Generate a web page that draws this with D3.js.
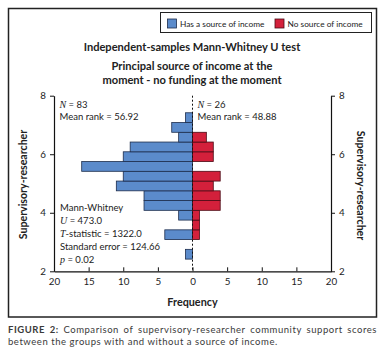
<!DOCTYPE html>
<html>
<head>
<meta charset="utf-8">
<script src="https://cdn.jsdelivr.net/npm/d3@7"></script>
<style>
  body { margin: 0; background: #fff; }
  svg { display: block; font-family: Lato, "Open Sans", sans-serif; }
</style>
</head>
<body>
<svg id="chart" width="390" height="354"></svg>
<script>
// lower edge of each score bin (bins are 1/3 wide)
const binStarts = [2.4167, 2.75, 3.0833, 3.4167, 3.75, 4.0833, 4.4167, 4.75, 5.0833, 5.4167, 5.75, 6.0833, 6.4167, 6.75, 7.0833]
const binWidth = 1 / 3
const hasIncome = [1, 0, 4, 0, 2, 7, 7, 11, 10, 16, 10, 9, 2, 3, 1]
const noIncome = [0, 0, 1, 1, 1, 4, 4, 3, 4, 0, 3, 3, 2, 0, 0]

const seriesNames = ["Has a source of income", "No source of income"]
const yTicks = [2, 4, 6, 8]
const xTicks = [-20, -15, -10, -5, 0, 5, 10, 15, 20]

const blue = "#5b8bcb", blueLine = "#1c2c4c"
const red = "#d3203b", redLine = "#4a0a14"

const svg = d3.select("#chart")

// frequency runs both ways from zero
const x = d3.scaleLinear().domain([-20, 20]).range([54, 331])
const y = d3.scaleLinear().domain([2, 8]).range([271.3, 95.7])

// outer frame
svg.append("rect")
    .attr("x", 8.5).attr("y", 8.5)
    .attr("width", 368).attr("height", 308.5)
    .attr("fill", "none").attr("stroke", "#222").attr("stroke-width", 1.5)

// legend
const leg = svg.append("g")
leg.append("rect")
    .attr("x", 160.5).attr("y", 12.5).attr("width", 211).attr("height", 20)
    .attr("fill", "#fff").attr("stroke", "#222").attr("stroke-width", 1)
const legX = [167.5, 275]
seriesNames.forEach((name, i) => {
    leg.append("rect")
        .attr("x", legX[i]).attr("y", 19).attr("width", 9).attr("height", 9)
        .attr("fill", i == 0 ? blue : red)
        .attr("stroke", i == 0 ? blueLine : redLine).attr("stroke-width", 0.8)
    leg.append("text")
        .attr("x", legX[i] + 12.5).attr("y", 26.5)
        .attr("font-size", 8.3).attr("fill", "#222")
        .text(name)
})

// titles
const titleLines = [["Independent-samples Mann-Whitney U test", 51],
    ["Principal source of income at the", 69.5], ["moment - no funding at the moment", 83.5]]
titleLines.forEach(d => svg.append("text")
    .attr("x", 192).attr("y", d[1]).attr("text-anchor", "middle")
    .attr("font-size", 11.1).attr("font-weight", "bold").attr("fill", "#222")
    .text(d[0]))

// bars
svg.append("g").selectAll("rect")
    .data(binStarts.map((b, i) => ({ b, n: hasIncome[i] })).filter(d => d.n > 0))
    .join("rect")
    .attr("x", d => x(-d.n))
    .attr("y", d => y(d.b + binWidth))
    .attr("width", d => x(0) - x(-d.n))
    .attr("height", d => y(d.b) - y(d.b + binWidth))
    .attr("fill", blue).attr("stroke", blueLine).attr("stroke-width", 0.8)

svg.append("g").selectAll("rect")
    .data(binStarts.map((b, i) => ({ b, n: noIncome[i] })).filter(d => d.n > 0))
    .join("rect")
    .attr("x", x(0))
    .attr("y", d => y(d.b + binWidth))
    .attr("width", d => x(d.n) - x(0))
    .attr("height", d => y(d.b) - y(d.b + binWidth))
    .attr("fill", red).attr("stroke", redLine).attr("stroke-width", 0.8)

// dotted zero line
svg.append("line")
    .attr("x1", x(0)).attr("x2", x(0))
    .attr("y1", y(8)).attr("y2", y(2))
    .attr("stroke", "#111").attr("stroke-width", 1)
    .attr("stroke-dasharray", "2,2")

// axes
const styleAxis = g => {
    g.selectAll("path, line").attr("stroke", "#111")
    g.selectAll("text").attr("font-size", 9.8).attr("fill", "#222")
        .attr("font-family", "Lato, sans-serif")
}
svg.append("g")
    .attr("transform", `translate(0,${y(2)})`)
    .call(d3.axisBottom(x).tickValues(xTicks).tickFormat(d => Math.abs(d))
        .tickSizeInner(-4).tickSizeOuter(0).tickPadding(7))
    .call(styleAxis)
svg.append("g")
    .attr("transform", `translate(${x(-20)},0)`)
    .call(d3.axisLeft(y).tickValues(yTicks).tickFormat(d3.format("d"))
        .tickSizeInner(4).tickSizeOuter(0).tickPadding(4))
    .call(styleAxis)
svg.append("g")
    .attr("transform", `translate(${x(20)},0)`)
    .call(d3.axisRight(y).tickValues(yTicks).tickFormat(d3.format("d"))
        .tickSizeInner(4).tickSizeOuter(0).tickPadding(4))
    .call(styleAxis)
svg.selectAll(".domain").attr("stroke-width", 1.2)

// axis titles
svg.append("text")
    .attr("transform", `translate(27,${y(5) + 1}) rotate(-90)`)
    .attr("text-anchor", "middle")
    .attr("font-size", 10.6).attr("font-weight", "bold").attr("fill", "#222")
    .text("Supervisory-researcher")
svg.append("text")
    .attr("transform", `translate(357,${y(5) + 2}) rotate(90)`)
    .attr("text-anchor", "middle")
    .attr("font-size", 10.6).attr("font-weight", "bold").attr("fill", "#222")
    .text("Supervisory-researcher")
svg.append("text")
    .attr("x", x(0)).attr("y", 306).attr("text-anchor", "middle")
    .attr("font-size", 10.8).attr("font-weight", "bold").attr("fill", "#222")
    .text("Frequency")

// annotations: [italic part, rest]
const leftNotes = [["N", " = 83"], ["", "Mean rank = 56.92"]]
const rightNotes = [["N", " = 26"], ["", "Mean rank = 48.88"]]
const testNotes = [["", "Mann-Whitney"], ["U", " = 473.0"], ["T", "-statistic = 1322.0"],
    ["", "Standard error = 124.66"], ["p", " = 0.02"]]

function notes(list, x0, y0, step) {
    list.forEach((d, i) => {
        const t = svg.append("text")
            .attr("x", x0).attr("y", y0 + i * step)
            .attr("font-size", 9.5).attr("fill", "#222")
        if (d[0]) t.append("tspan")
            .attr("font-family", "'Liberation Serif', serif").attr("font-style", "italic")
            .attr("font-size", 10)
            .text(d[0])
        t.append("tspan").text(d[1])
    })
}
notes(leftNotes, 59.5, 107.5, 12)
notes(rightNotes, 197.5, 107.5, 12)
notes(testNotes, 60, 211, 12.9)

// caption, first line justified
const capLines = ["FIGURE 2: Comparison of supervisory-researcher community support scores",
    "between the groups with and without a source of income."]
const cap = svg.append("g").attr("font-size", 9.5).attr("fill", "#3a3a3a")
    .attr("letter-spacing", 0.55)
const words = capLines[0].split(" ")
const ws = words.map((w, i) => cap.append("text")
    .attr("y", 333)
    .attr("font-weight", i < 2 ? "bold" : "normal")
    .text(w))
const widths = ws.map(t => t.node().getComputedTextLength())
const gap = (377 - 8 - d3.sum(widths)) / (words.length - 1)
let cx = 8
ws.forEach((t, i) => { t.attr("x", cx); cx += widths[i] + gap })
cap.append("text").attr("x", 8).attr("y", 345).text(capLines[1])
</script>
</body>
</html>
